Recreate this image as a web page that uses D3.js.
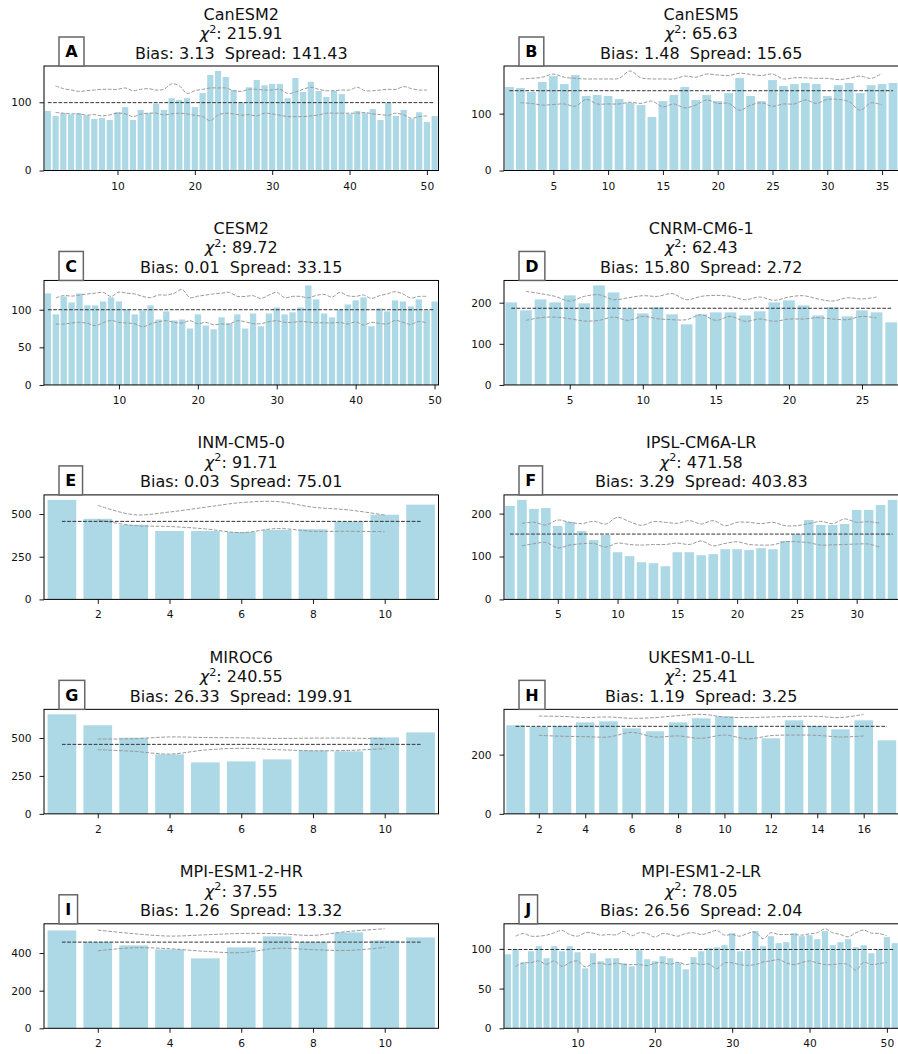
<!DOCTYPE html>
<html>
<head>
<meta charset="utf-8">
<script src="https://cdn.jsdelivr.net/npm/d3@7"></script>
<style>
  html, body { margin: 0; padding: 0; background: #fff; }
  svg { display: block; font-family: "DejaVu Sans", sans-serif; }
</style>
</head>
<body>
<script>
// ---- Rank histograms of ensemble members vs observations ----
const models = ["CanESM2", "CanESM5", "CESM2", "CNRM-CM6-1", "INM-CM5-0",
                "IPSL-CM6A-LR", "MIROC6", "UKESM1-0-LL", "MPI-ESM1-2-HR", "MPI-ESM1-2-LR"];
const panelLetters = ["A", "B", "C", "D", "E", "F", "G", "H", "I", "J"];
const chi2 = ["215.91", "65.63", "89.72", "62.43", "91.71", "471.58", "240.55", "25.41", "37.55", "78.05"];
const bias = ["3.13", "1.48", "0.01", "15.80", "0.03", "3.29", "26.33", "1.19", "1.26", "26.56"];
const spread = ["141.43", "15.65", "33.15", "2.72", "75.01", "403.83", "199.91", "3.25", "13.32", "2.04"];
const expected = [99.5, 140.3, 100, 186.5, 457, 152.3, 458, 295.5, 458, 99.2];

const yTicks = [[0, 100], [0, 100], [0, 50, 100], [0, 100, 200], [0, 250, 500],
                [0, 100, 200], [0, 250, 500], [0, 200], [0, 200, 400], [0, 50, 100]];
const xTicks = [[10, 20, 30, 40, 50], [5, 10, 15, 20, 25, 30, 35], [10, 20, 30, 40, 50],
                [5, 10, 15, 20, 25], [2, 4, 6, 8, 10], [5, 10, 15, 20, 25, 30],
                [2, 4, 6, 8, 10], [2, 4, 6, 8, 10, 12, 14, 16], [2, 4, 6, 8, 10],
                [10, 20, 30, 40, 50]];

// rank counts (ranks 1..N) and the upper / lower band (ranks 2..N-1)
const canesm2Counts = [87.3, 80, 84, 82, 84, 80.5, 75.6, 77, 74, 85.6,
  93, 74, 88.8, 84, 98, 88.8, 106, 103.4, 106, 93,
  113.7, 140, 145.9, 137, 118, 100, 122, 132.7, 125, 127,
  127, 106, 135.6, 115, 130, 116.6, 107.8, 116.6, 112, 83,
  87.3, 84, 90, 74, 99, 80, 88.8, 75.6, 85.4, 71, 80];
const canesm2Upper = [124, 120, 118, 116, 117, 118, 119, 119, 119,
  121, 117, 119, 120, 118, 119, 127, 124, 113, 117,
  119, 121, 121, 121, 117, 116, 119, 119, 118, 118,
  119, 113, 115, 119, 122, 119, 117, 117, 118, 118,
  122, 117, 117, 118, 119, 119, 123, 120, 118, 118];
const canesm2Lower = [85, 84, 83, 83, 81, 82, 80, 81.5, 84,
  83, 79, 82.5, 84, 84, 81.5, 83, 84, 83, 81,
  79, 73, 81.5, 84, 83, 81, 82, 80, 84, 83,
  81, 79, 79, 79, 80, 81.5, 84, 84, 84, 84,
  84, 85, 83, 82, 81, 84, 81.5, 76.5, 79, 80];

const canesm5Counts = [146.8, 145, 138, 155.6, 166, 152, 167.8, 131, 132.7, 131,
  125.7, 118.7, 115, 94, 122, 132.7, 146.8, 124, 132.7, 122,
  136, 162.6, 131, 122, 159, 148.5, 152, 153.8, 152, 131,
  150, 153.8, 136, 150, 152, 153.8];
const canesm5Upper = [161, 162, 164, 169.5, 164, 162, 161, 161, 161, 162,
  175, 163, 161, 161, 161, 166, 164, 169.5, 168, 167,
  171, 169, 167, 169.5, 161, 163, 163, 162, 162, 160,
  162, 166, 162, 171];
const canesm5Lower = [119, 118, 115, 116, 117, 113, 125, 117, 117, 117,
  120, 118, 122, 112, 117, 110, 115, 124, 118, 118,
  106, 115, 119, 113, 117, 117, 124, 118, 125, 125,
  121, 106, 119, 115];

const cesm2Counts = [121.7, 93.8, 117.7, 109.7, 121.7, 105.8, 105.8, 111, 116.4, 111,
  100.4, 93.8, 99, 105.8, 87, 97.8, 85.8, 87, 75, 93.8,
  79, 74, 89.8, 82, 93.8, 75, 95, 78, 95, 103,
  93.8, 96.5, 103, 132.3, 113.7, 95, 89.8, 100.4, 107, 112.4,
  116.4, 78, 101.8, 97.8, 112.4, 111, 104.4, 113.7, 99, 111];
const cesm2Upper = [115.5, 119, 118, 119.5, 121, 122, 123, 117.7, 123.5,
  122, 121, 117.7, 116, 119.5, 119.5, 122, 127, 116, 118,
  119.5, 121, 122, 123, 117.7, 117.7, 118.6, 115, 119.5, 123,
  116, 117.7, 117.7, 116, 119, 120.4, 116.8, 123, 118.6, 117.7,
  119.5, 115, 118.6, 121, 124, 121, 115.5, 117.7, 117.7];
const cesm2Lower = [81, 81, 82.3, 83.2, 81.9, 78.8, 82.7, 85.8, 83.2,
  82.3, 81.4, 77.4, 81, 84, 85.4, 83.2, 82.3, 85.4, 81.4,
  83.2, 80, 81, 81, 85.4, 84, 81.4, 81.4, 84, 85.4,
  83.2, 83.2, 84.5, 83.6, 82.7, 82.7, 82.3, 83.2, 81, 84,
  79.6, 83.2, 81.9, 81, 85.8, 83.2, 80.5, 84.5, 82.3];

const cnrmCounts = [200.8, 181.4, 208, 200.8, 217.8, 198.4, 242, 225, 186, 174,
  188.7, 171.7, 147.4, 171.7, 176.5, 176.5, 169, 179, 200.8, 205.7,
  193.5, 169, 188.7, 166.8, 181.4, 176.5, 152.2];
const cnrmUpper = [227.5, 222, 215.4, 204, 215.4, 219.4, 207.3, 212, 217,
  215.4, 222, 207.3, 215.4, 217.8, 215.4, 207.3, 213.8, 205.7, 213.8,
  217, 209, 204, 212, 209, 213.8];
const cnrmLower = [157, 163.6, 165, 161, 155.5, 157, 165, 157, 166.8,
  161, 158.7, 158.7, 170.8, 157, 166.8, 154.7, 160.3, 154.7, 160.3,
  160.3, 163.6, 160.3, 158.7, 166.8, 162.8];

const inmCounts = [583, 472, 437, 401, 401, 395, 407, 411, 456, 496, 555];
const inmUpper = [551, 496, 512, 540, 567, 573, 540, 524, 494];
const inmLower = [466, 433, 427, 413, 391, 415, 399, 399, 397];

const ipslCounts = [218, 232, 211, 213, 171, 180.5, 159.4, 138.3, 150, 110,
  100.8, 86.7, 84.4, 77.3, 110, 110, 103, 105.5, 117, 117,
  115, 119.5, 117, 136, 152, 185, 173.4, 173.4, 175.8, 208.6,
  208.6, 220, 232];
const ipslUpper = [177.3, 179.7, 173.4, 185, 179.7, 176.6, 182, 175.8, 191.4,
  181.3, 172.7, 181.3, 179.7, 177.3, 183.6, 175.8, 183.6, 171.9, 179.7,
  179.7, 176.6, 179.7, 171.9, 171.9, 176.6, 182, 176.6, 187.5, 179.7,
  181.3, 177.3];
const ipslLower = [125, 129.7, 132.8, 120.3, 126.6, 129.7, 130.5, 121.9, 131.3,
  128, 126.6, 128, 128, 131.3, 128, 136, 125, 130.5, 134.4,
  128, 126.6, 127.3, 134.4, 134.4, 132, 126.6, 127.3, 128, 129,
  129, 121];

const mirocCounts = [656, 584, 502, 392, 339, 346, 359, 418, 412, 504, 537];
const mirocUpper = [493, 495, 507, 503, 501, 497, 499, 499, 495];
const mirocLower = [423, 412, 394, 421, 432, 423, 416, 418, 430];

const ukesmCounts = [298.9, 294.4, 296.6, 309, 312.4, 288.8, 278.7, 309, 322.5, 329,
  295.5, 255, 315.7, 296.6, 285.4, 315.7, 248.3];
const ukesmUpper = [330, 329, 325, 327, 322.5, 325, 331.5, 336, 327, 325, 327, 329, 329, 325, 336];
const ukesmLower = [265, 262, 260.7, 259.5, 275, 259.5, 263, 255, 266, 253, 264, 266, 265, 259.5, 263];

const mpiHrCounts = [520, 460, 440.7, 419.5, 371.7, 430, 488.5, 460, 509.7, 467, 483];
const mpiHrUpper = [522, 503, 490.3, 497, 504, 503, 494, 515, 529];
const mpiHrLower = [412, 428, 423, 409, 402, 425, 418, 414, 430];

const mpiLrCounts = [93.2, 99.6, 83, 97, 103.4, 88.2, 103.4, 97, 103.4, 95.8,
  75.5, 94.5, 84.4, 88.2, 88.2, 81.9, 78, 98.3, 87, 84.4,
  90.7, 88.2, 83, 74.3, 89.5, 97, 100.8, 102, 104.6, 119.8,
  97, 98.3, 122.4, 103.4, 116, 107.2, 108.4, 119.8, 116, 117.3,
  112.2, 122.4, 104.6, 108.4, 112.2, 102, 104.6, 94.5, 99.6, 114.8, 107.2];
const mpiLrUpper = [116, 119.4, 116, 116, 117.3, 120.3, 123.2, 118.1, 116,
  120.3, 119.8, 117.3, 118.1, 117.7, 121.9, 116.5, 120.3, 119.4, 114.8,
  119.4, 118.1, 116, 119.4, 120.3, 118.1, 120.3, 123.2, 117.3, 118.1,
  116, 119.4, 121.1, 112.7, 120.3, 118.1, 118.1, 118.1, 117.3, 119,
  120.3, 125.3, 120.3, 118.1, 115.2, 120.3, 123.6, 119.8, 119.4, 116.5];
const mpiLrLower = [78, 82.3, 82.7, 84.8, 80.6, 84.8, 78, 82.7, 84.8,
  77.2, 81.4, 81.9, 80.2, 81.9, 80.2, 80.2, 80.2, 78.9, 81.9,
  82.7, 80.6, 83.1, 80.2, 81.9, 80.2, 81, 75.1, 82.3, 82.3,
  80.2, 79.3, 80.2, 83.5, 84.8, 86.5, 82.3, 80.2, 82.7, 84.8,
  82.3, 80.2, 80.2, 81.4, 80.2, 73.4, 83.1, 80.2, 81.4, 83.1];

const countsList = [canesm2Counts, canesm5Counts, cesm2Counts, cnrmCounts, inmCounts,
                    ipslCounts, mirocCounts, ukesmCounts, mpiHrCounts, mpiLrCounts];
const upperList = [canesm2Upper, canesm5Upper, cesm2Upper, cnrmUpper, inmUpper,
                   ipslUpper, mirocUpper, ukesmUpper, mpiHrUpper, mpiLrUpper];
const lowerList = [canesm2Lower, canesm5Lower, cesm2Lower, cnrmLower, inmLower,
                   ipslLower, mirocLower, ukesmLower, mpiHrLower, mpiLrLower];

// ---- layout ----
const width = 898, height = 1054;
const colLeft = [44, 504];
const axW = 394.5, axH = 104.5;
const rowTop0 = 66, rowStep = 214.45;

const svg = d3.select("body").append("svg")
  .attr("width", width).attr("height", height);
svg.append("rect").attr("width", width).attr("height", height).attr("fill", "#fff");

models.forEach((name, i) => {
  const counts = countsList[i], upper = upperList[i], lower = lowerList[i];
  const n = counts.length;
  const left = colLeft[i % 2];
  const top = rowTop0 + Math.floor(i / 2) * rowStep;
  const g = svg.append("g").attr("transform", `translate(${left},${top})`);

  const x = d3.scaleLinear().domain([0.5, n + 0.5]).range([0, axW]);
  const ymax = 1.05 * d3.max([...counts, ...upper, ...lower, expected[i]]);
  const y = d3.scaleLinear().domain([0, ymax]).range([axH, 0]);

  // bars
  g.selectAll("rect.bar").data(counts).join("rect")
    .attr("class", "bar")
    .attr("x", (d, k) => x(k + 1 - 0.4))
    .attr("width", (d, k) => x(k + 1 + 0.4) - x(k + 1 - 0.4))
    .attr("y", d => y(d))
    .attr("height", d => y(0) - y(d))
    .attr("fill", "#add8e6");

  // confidence band
  const band = d3.line()
    .x((d, k) => x(k + 2))
    .y(d => y(d))
    .curve(d3.curveCatmullRom);
  [upper, lower].forEach(arr => {
    g.append("path").attr("d", band(arr))
      .attr("fill", "none").attr("stroke", "#9a9a9a")
      .attr("stroke-width", 1).attr("stroke-dasharray", "3.7,1.6");
  });

  // expected count per rank
  g.append("line")
    .attr("x1", x(1)).attr("x2", x(n))
    .attr("y1", y(expected[i])).attr("y2", y(expected[i]))
    .attr("stroke", "#333").attr("stroke-width", 1)
    .attr("stroke-dasharray", "3.7,1.6");

  // axes
  const xa = g.append("g").attr("transform", `translate(0,${axH})`)
    .call(d3.axisBottom(x).tickValues(xTicks[i]).tickSize(4.5).tickPadding(7).tickFormat(d3.format("d")));
  const ya = g.append("g")
    .call(d3.axisLeft(y).tickValues(yTicks[i]).tickSize(4.5).tickPadding(8).tickFormat(d3.format("d")));
  [xa, ya].forEach(a => {
    a.select(".domain").remove();
    a.selectAll("line").attr("stroke", "#000").attr("stroke-width", 0.9);
    a.selectAll("text").attr("fill", "#111")
      .style("font-family", "'DejaVu Sans', sans-serif").style("font-size", "10.67px");
  });

  // frame
  g.append("rect").attr("x", 0).attr("y", 0).attr("width", axW).attr("height", axH)
    .attr("fill", "none").attr("stroke", "#000").attr("stroke-width", 1);

  // title lines
  const cx = axW / 2;
  const tstyle = sel => sel.attr("text-anchor", "middle").attr("fill", "#111")
    .style("font-size", "16px").style("font-family", "'DejaVu Sans', sans-serif");
  g.append("text").attr("x", cx).attr("y", -46.5).call(tstyle).text(name);
  const t2 = g.append("text").attr("x", cx).attr("y", -27).call(tstyle);
  t2.append("tspan").style("font-style", "italic").text("\u03c7");
  t2.append("tspan").attr("dy", -6.5).style("font-size", "11.2px").text("2");
  t2.append("tspan").attr("dy", 6.5).text(": " + chi2[i]);
  g.append("text").attr("x", cx).attr("y", -7.5).call(tstyle)
    .text(`Bias: ${bias[i]}\u00a0 Spread: ${spread[i]}`);

  // panel letter box
  const lb = g.append("g");
  const box = lb.append("rect").attr("fill", "#fff").attr("stroke", "#666").attr("stroke-width", 1.5);
  const lt = lb.append("text").attr("y", -8.7).attr("fill", "#000")
    .style("font-size", "16px").style("font-weight", "bold")
    .style("font-family", "'DejaVu Sans', sans-serif")
    .text(panelLetters[i]);
  const tw = lt.node().getComputedTextLength();
  const pad = 6.3;
  box.attr("x", 15).attr("y", -29).attr("width", tw + 2 * pad).attr("height", 29);
  lt.attr("x", 15 + pad);
});
</script>
</body>
</html>
